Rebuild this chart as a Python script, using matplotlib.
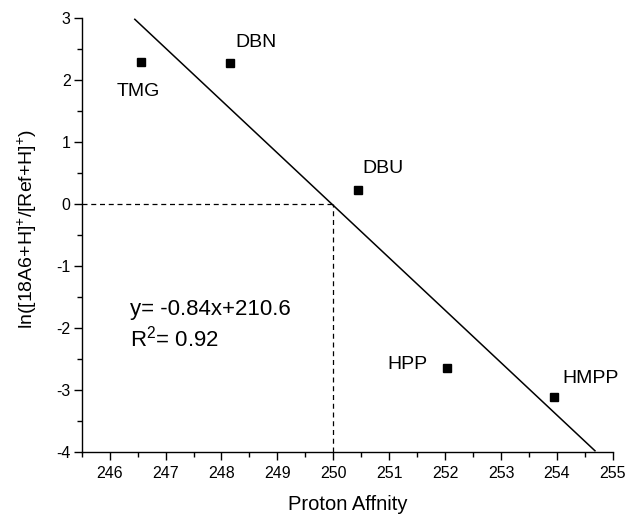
import matplotlib
matplotlib.use("Agg")
import matplotlib.pyplot as plt
from matplotlib.ticker import MultipleLocator

plt.rcParams['font.family'] = ['Liberation Sans', 'DejaVu Sans']
plt.rcParams['mathtext.fontset'] = 'custom'
plt.rcParams['mathtext.rm'] = 'Liberation Sans'
plt.rcParams['mathtext.it'] = 'Liberation Sans'
plt.rcParams['axes.unicode_minus'] = False

names = ["TMG", "DBN", "DBU", "HPP", "HMPP"]
pa = [246.56, 248.15, 250.45, 252.03, 253.95]
lnratio = [2.29, 2.27, 0.23, -2.65, -3.11]
fit_x = [246.45, 254.68]
fit_y = [2.98, -3.98]
label_pos = [(246.52, 1.75), (248.61, 2.53), (250.88, 0.50), (251.33, -2.66), (254.6, -2.88)]

fig = plt.figure(figsize=(6.26, 5.16), dpi=100)
ax = fig.add_axes([0.1305, 0.124, 0.8485, 0.841])

ax.plot(fit_x, fit_y, color='black', lw=1.1)
ax.plot([245.5, 250], [0, 0], color='black', lw=0.9, ls=(0, (4, 3)))
ax.plot([250, 250], [-4, 0], color='black', lw=0.9, ls=(0, (4, 3)))
ax.plot(pa, lnratio, 's', color='black', markersize=6)

for n, (tx, ty) in zip(names, label_pos):
    ax.text(tx, ty, n, fontsize=14, ha='center', va='baseline')

ax.text(246.37, -1.79, "y= -0.84x+210.6", fontsize=16, ha='left', va='baseline')
ax.text(246.37, -2.30, r"R$^{2}$= 0.92", fontsize=16, ha='left', va='baseline')

ax.set_xlim(245.5, 255)
ax.set_ylim(-4, 3)
ax.xaxis.set_major_locator(MultipleLocator(1))
ax.xaxis.set_minor_locator(MultipleLocator(0.5))
ax.yaxis.set_major_locator(MultipleLocator(1))
ax.yaxis.set_minor_locator(MultipleLocator(0.5))
ax.tick_params(which='major', direction='out', length=5.5, width=1, labelsize=11.5)
ax.tick_params(axis='x', which='major', pad=4.5)
ax.tick_params(axis='y', which='major', pad=2.5)
ax.tick_params(which='minor', direction='out', length=3.5, width=1)
ax.spines['top'].set_visible(False)
ax.spines['right'].set_visible(False)
for s in ('left', 'bottom'):
    ax.spines[s].set_linewidth(1.0)

ax.set_xlabel("Proton Affnity", fontsize=14.5, va='baseline')
ax.xaxis.set_label_coords(0.5, (452 - 510) / 434)
ax.set_ylabel(r"ln([18A6+H]$^{+}$/[Ref+H]$^{+}$)", fontsize=14, va='center')
ax.yaxis.set_label_coords((27 - 81.7) / 531, 0.515)

fig.savefig("out.png", dpi=100)
